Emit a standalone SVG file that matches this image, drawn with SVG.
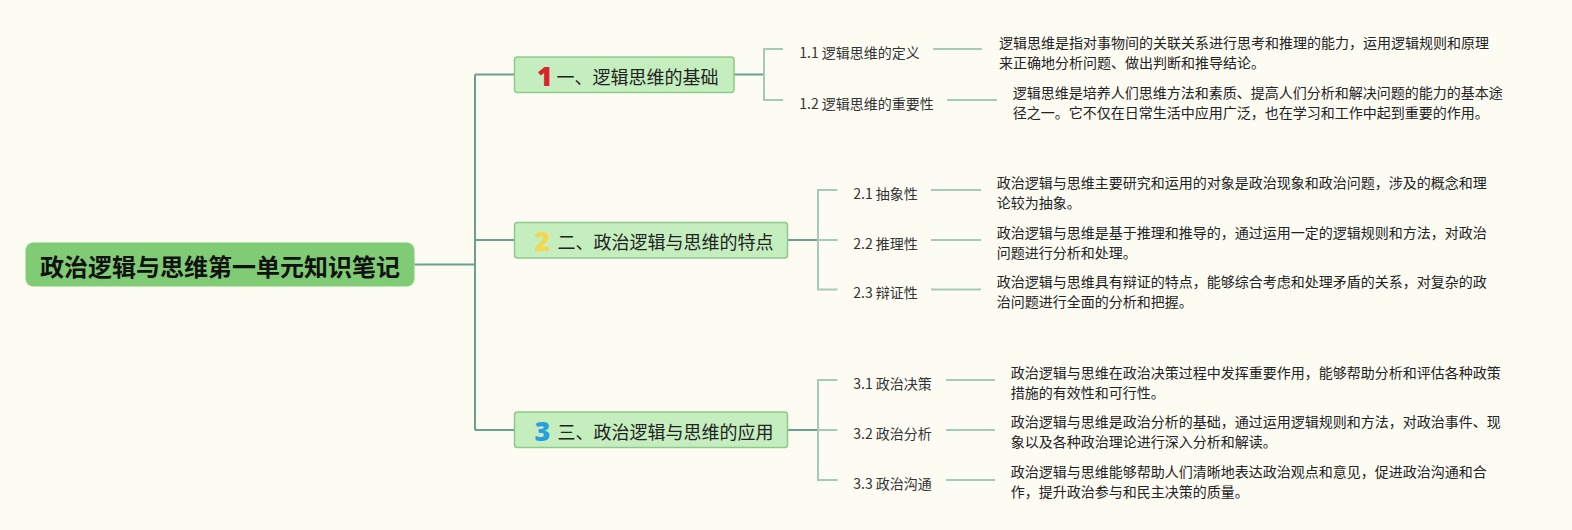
<svg xmlns="http://www.w3.org/2000/svg" width="1572" height="530" viewBox="0 0 1572 530">
<style>
  text { font-family: "Noto Sans CJK SC", "Noto Sans", sans-serif; dominant-baseline: central; }
  .root-box { fill: #80cc74; }
  .root-txt { font-size: 24px; font-weight: 700; fill: #111; }
  .br-box { fill: #c4eebe; stroke: #8ec98b; stroke-width: 1.5; }
  .br-txt { font-size: 18px; fill: #222; }
  .num { font-family: "Noto Sans", "Roboto", sans-serif; font-size: 27px; font-weight: 900; }
  .sub-txt { font-size: 14px; fill: #333; }
  .leaf-txt { font-size: 14px; fill: #222; }
  .c-main { fill: none; stroke: #6aa08f; stroke-width: 2; }
  .c-sub { fill: none; stroke: #a5cab5; stroke-width: 2; }
</style>
<rect width="1572" height="530" fill="#fdfcf3"/>

<g id="connectors">
  <path class="c-main" d="M414.5 264.5 H475 M475 74.5 V430 M475 74.5 H514.5 M475 240 H514.5 M475 430 H514.5"/>
  <path class="c-main" d="M734 74.5 H764 M787.5 240 H818 M787.5 430 H818"/>
  <path class="c-sub" d="M783 49 H764 V100 H783"/>
  <path class="c-sub" d="M837.5 190 H818 V289.5 H837.5 M818 240 H837.5"/>
  <path class="c-sub" d="M837.5 380 H818 V480 H837.5 M818 430 H837.5"/>
  <path class="c-sub" d="M933 49 H982 M947 100 H997"/>
  <path class="c-sub" d="M931 190 H981 M931 240 H981 M931 289.5 H981"/>
  <path class="c-sub" d="M946 380 H995 M946 430 H995 M946 480 H995"/>
</g>

<g id="root">
  <rect class="root-box" x="25.5" y="242.5" width="389" height="44" rx="8"/>
  <text class="root-txt" x="220" y="265.5" text-anchor="middle">政治逻辑与思维第一单元知识笔记</text>
</g>

<g id="branch-1">
  <rect class="br-box" x="514.5" y="57" width="219.5" height="35.5" rx="3"/>
  <text class="num" x="545" y="75" text-anchor="middle" fill="#d9252b">1</text>
  <text class="br-txt" x="556.5" y="75.5">一、逻辑思维的基础</text>
</g>
<g id="branch-2">
  <rect class="br-box" x="514.5" y="222.5" width="273" height="35.5" rx="3"/>
  <text class="num" x="542.5" y="240.5" text-anchor="middle" fill="#f4d74e">2</text>
  <text class="br-txt" x="557.5" y="241">二、政治逻辑与思维的特点</text>
</g>
<g id="branch-3">
  <rect class="br-box" x="514.5" y="412" width="273" height="35.5" rx="3"/>
  <text class="num" x="542.5" y="430.5" text-anchor="middle" fill="#2a9fe0">3</text>
  <text class="br-txt" x="557.5" y="431">三、政治逻辑与思维的应用</text>
</g>

<g id="sub-1-1"><text class="sub-txt" x="799.3" y="51.5">1.1 逻辑思维的定义</text></g>
<g id="sub-1-2"><text class="sub-txt" x="799.3" y="102.5">1.2 逻辑思维的重要性</text></g>
<g id="sub-2-1"><text class="sub-txt" x="853.3" y="192.5">2.1 抽象性</text></g>
<g id="sub-2-2"><text class="sub-txt" x="853.3" y="242.5">2.2 推理性</text></g>
<g id="sub-2-3"><text class="sub-txt" x="853.3" y="292">2.3 辩证性</text></g>
<g id="sub-3-1"><text class="sub-txt" x="853.3" y="382.5">3.1 政治决策</text></g>
<g id="sub-3-2"><text class="sub-txt" x="853.3" y="432.5">3.2 政治分析</text></g>
<g id="sub-3-3"><text class="sub-txt" x="853.3" y="482.5">3.3 政治沟通</text></g>

<g id="leaf-1-1" class="leaf-txt">
  <text class="leaf-txt" x="999" y="41.5">逻辑思维是指对事物间的关联关系进行思考和推理的能力，运用逻辑规则和原理</text>
  <text class="leaf-txt" x="999" y="61.5">来正确地分析问题、做出判断和推导结论。</text>
</g>
<g id="leaf-1-2">
  <text class="leaf-txt" x="1012.7" y="91.5">逻辑思维是培养人们思维方法和素质、提高人们分析和解决问题的能力的基本途</text>
  <text class="leaf-txt" x="1012.7" y="111.5">径之一。它不仅在日常生活中应用广泛，也在学习和工作中起到重要的作用。</text>
</g>
<g id="leaf-2-1">
  <text class="leaf-txt" x="996.7" y="182">政治逻辑与思维主要研究和运用的对象是政治现象和政治问题，涉及的概念和理</text>
  <text class="leaf-txt" x="996.7" y="202">论较为抽象。</text>
</g>
<g id="leaf-2-2">
  <text class="leaf-txt" x="996.7" y="231.5">政治逻辑与思维是基于推理和推导的，通过运用一定的逻辑规则和方法，对政治</text>
  <text class="leaf-txt" x="996.7" y="251.5">问题进行分析和处理。</text>
</g>
<g id="leaf-2-3">
  <text class="leaf-txt" x="996.7" y="281">政治逻辑与思维具有辩证的特点，能够综合考虑和处理矛盾的关系，对复杂的政</text>
  <text class="leaf-txt" x="996.7" y="301">治问题进行全面的分析和把握。</text>
</g>
<g id="leaf-3-1">
  <text class="leaf-txt" x="1010.7" y="371.5">政治逻辑与思维在政治决策过程中发挥重要作用，能够帮助分析和评估各种政策</text>
  <text class="leaf-txt" x="1010.7" y="391.5">措施的有效性和可行性。</text>
</g>
<g id="leaf-3-2">
  <text class="leaf-txt" x="1010.7" y="421">政治逻辑与思维是政治分析的基础，通过运用逻辑规则和方法，对政治事件、现</text>
  <text class="leaf-txt" x="1010.7" y="441">象以及各种政治理论进行深入分析和解读。</text>
</g>
<g id="leaf-3-3">
  <text class="leaf-txt" x="1010.7" y="470.5">政治逻辑与思维能够帮助人们清晰地表达政治观点和意见，促进政治沟通和合</text>
  <text class="leaf-txt" x="1010.7" y="490.5">作，提升政治参与和民主决策的质量。</text>
</g>
</svg>
